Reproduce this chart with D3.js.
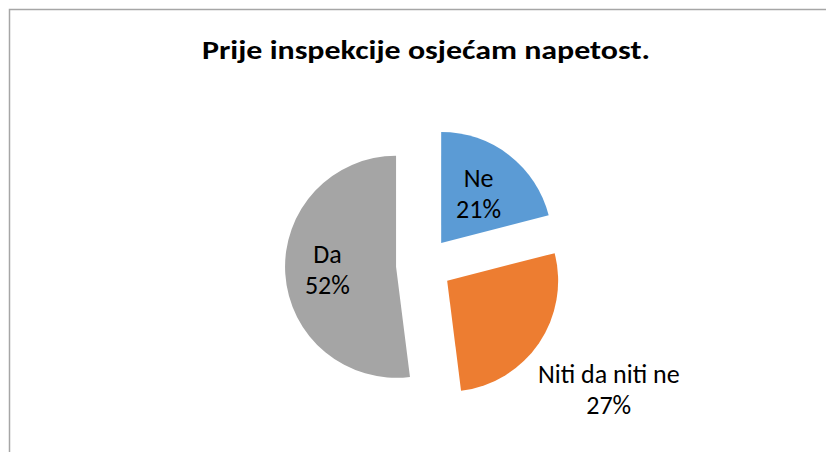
<!DOCTYPE html>
<html>
<head>
<meta charset="utf-8">
<script src="https://cdn.jsdelivr.net/npm/d3@7"></script>
<style>
  body { margin: 0; background: #fff; }
  text { font-family: Carlito, Calibri, Lato, sans-serif; }
</style>
</head>
<body>
<div id="chart"></div>
<script>
// data
var categories = ["Ne", "Niti da niti ne", "Da"];
var values = [21, 27, 52];
var colors = ["#5B9BD5", "#ED7D31", "#A5A5A5"];
var labelRadius = [0.55, 1.76, 0.62]; // where each label sits, in radii

var width = 826;
var height = 452;
var cx = 424, cy = 265;
var radius = 111;
var explode = 28;

let svg = d3.select("#chart").append("svg")
    .attr("width", width)
    .attr("height", height);

// chart frame (only top and left edges visible in the crop)
svg.append("path")
    .attr("d", "M9.5," + height + "V9.5H" + width)
    .attr("fill", "none")
    .attr("stroke", "#a6a6a6")
    .attr("stroke-width", 1.5);

svg.append("text")
    .attr("x", 426)
    .attr("y", 59)
    .attr("text-anchor", "middle")
    .attr("textLength", 448)
    .attr("lengthAdjust", "spacingAndGlyphs")
    .style("font-size", "26px")
    .style("font-weight", "bold")
    .text("Prije inspekcije osjećam napetost.");

var pie = d3.pie().sort(null).value(d => d);
var arcs = pie(values);

var arc = d3.arc().innerRadius(0).outerRadius(radius);

// move each slice out along its middle angle
function shift(d){
    var a = (d.startAngle + d.endAngle) / 2;
    return [cx + explode * Math.sin(a), cy - explode * Math.cos(a)];
}

var g = svg.append("g");

g.selectAll("path")
    .data(arcs)
    .enter()
    .append("path")
    .attr("d", arc)
    .attr("transform", d => "translate(" + shift(d) + ")")
    .attr("fill", (d, i) => colors[i]);

var labels = g.selectAll("text.lbl")
    .data(arcs)
    .enter()
    .append("text")
    .attr("class", "lbl")
    .attr("text-anchor", "middle")
    .style("font-size", "26px")
    .style("fill", "#000")
    .attr("transform", function(d, i){
        var p = shift(d);
        var r = radius * labelRadius[i];
        var c = d3.arc().innerRadius(r).outerRadius(r).centroid(d);
        return "translate(" + (p[0] + c[0]) + "," + (p[1] + c[1]) + ")";
    });

labels.append("tspan")
    .attr("x", 0)
    .attr("dy", "-0.3em")
    .text((d, i) => categories[i]);

labels.append("tspan")
    .attr("x", 0)
    .attr("dy", "1.2em")
    .text((d, i) => Math.round(d.value / d3.sum(values) * 100) + "%");
</script>
</body>
</html>
